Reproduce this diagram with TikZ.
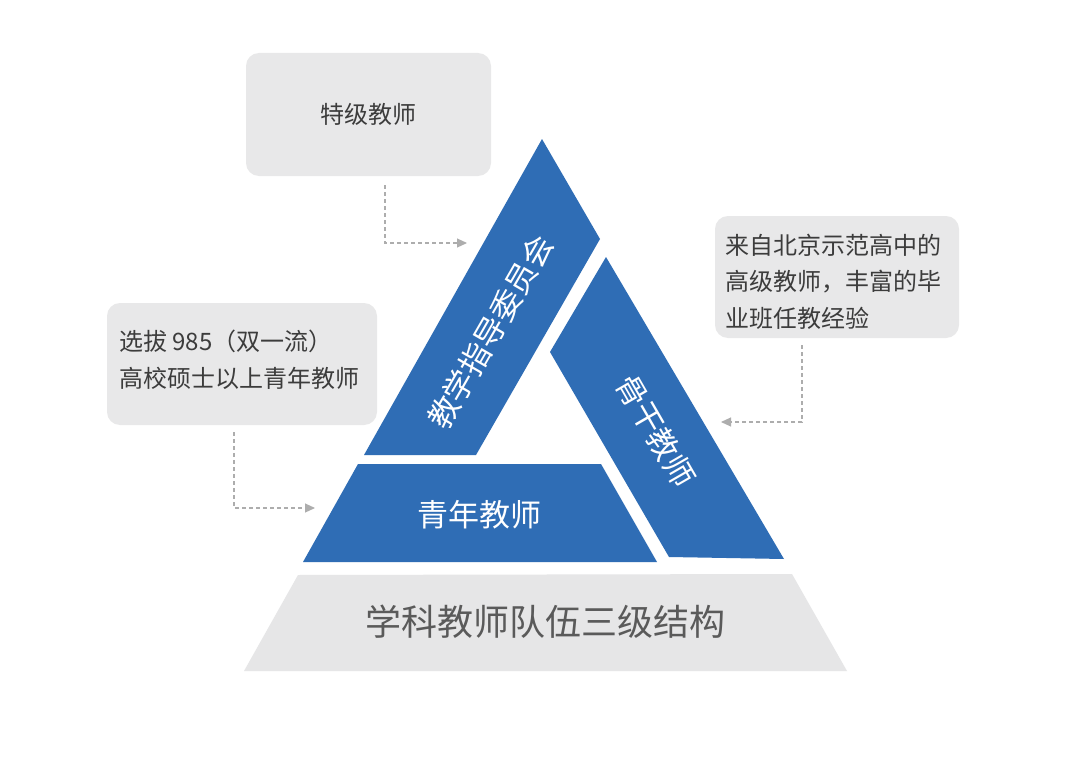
\documentclass[tikz,border=0pt]{standalone}
\usepackage{fontspec}
\setmainfont{Noto Sans CJK SC}
\usetikzlibrary{arrows.meta}
\definecolor{tblue}{HTML}{2F6DB5}
\definecolor{boxgray}{HTML}{E8E8E9}
\definecolor{basegray}{HTML}{E6E6E7}
\definecolor{txtdark}{HTML}{3C3C3C}
\definecolor{txtbase}{HTML}{5A5A5A}
\definecolor{arrgray}{HTML}{ADADAD}
\begin{document}
\begin{tikzpicture}[x=1pt,y=-1pt,
  infobox/.style={fill=boxgray,rounded corners=13pt,draw=none,inner sep=0pt},
  boxtext/.style={text=txtdark,font=\fontsize{24}{36.5}\selectfont,align=left,inner sep=0pt},
  bluetext/.style={text=white,font=\fontsize{31}{31}\selectfont,inner sep=0pt},
  guide/.style={arrgray,line width=1.1pt,dash pattern=on 4pt off 3pt,-{Triangle[length=10pt,width=9pt]}}]
\useasboundingbox (0,0) rectangle (1080,784);
\fill[white] (0,0) rectangle (1080,784);
% base
\fill[basegray] (298,575) -- (792,574) -- (847,671) -- (244,671) -- cycle;
\node[text=txtbase,font=\fontsize{36}{36}\selectfont,inner sep=0pt] (base) at (545,622) {学科教师队伍三级结构};
% blue shapes
\fill[tblue] (542,139) -- (600,239) -- (476,455) -- (364,455) -- cycle;
\fill[tblue] (606,257) -- (550,352) -- (669,557) -- (784,559) -- cycle;
\fill[tblue] (358,464) -- (601,464) -- (657,562) -- (303,562) -- cycle;
\node[bluetext,rotate=60] (committee) at (490,332) {教学指导委员会};
\node[bluetext,rotate=-60] (backbone) at (656,431) {骨干教师};
\node[bluetext] (young) at (479,515) {青年教师};
% info boxes
\node[infobox,minimum width=245pt,minimum height=123pt] (b1) at (368.5,114.5) {};
\node[boxtext] (t1) at (b1.center) {特级教师};
\node[infobox,minimum width=270pt,minimum height=122pt] (b2) at (242,364) {};
\node[boxtext,anchor=west] (t2) at (119,360) {选拔 985（双一流）\\高校硕士以上青年教师};
\node[infobox,minimum width=244pt,minimum height=122pt] (b3) at (837,277) {};
\node[boxtext,anchor=west] (t3) at (725,281.5) {来自北京示范高中的\\高级教师，丰富的毕\\业班任教经验};
% guides
\coordinate (g1s) at (385,185);
\coordinate (g1e) at (467,243);
\coordinate (g2s) at (234,432);
\coordinate (g2e) at (315,508);
\coordinate (g3s) at (802,345);
\coordinate (g3e) at (721,422);
\draw[guide] (g1s) |- (g1e);
\draw[guide] (g2s) |- (g2e);
\draw[guide] (g3s) |- (g3e);
\end{tikzpicture}
\end{document}
